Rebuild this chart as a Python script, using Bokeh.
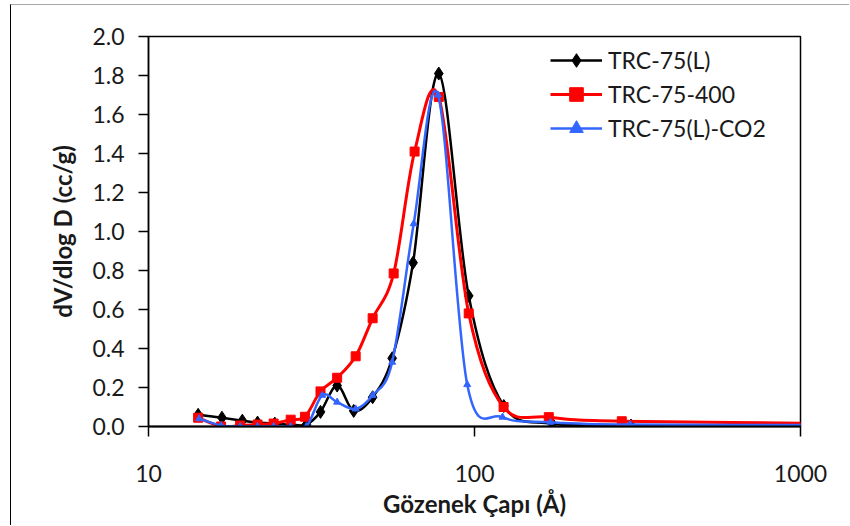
import numpy as np
from bokeh.plotting import figure
from bokeh.models import (Range1d, FixedTicker, PrintfTickFormatter, Legend,
                          LegendItem, ColumnDataSource)
from bokeh.embed import file_html
from bokeh.resources import INLINE

# ---------------- data ----------------
series_names = ["TRC-75(L)", "TRC-75-400", "TRC-75(L)-CO2"]

x_l = [14.2, 16.8, 19.4, 21.6, 24.4, 27.3, 30.5, 33.7, 37.9, 42.6, 48.7, 55.9,
       64.8, 77.7, 96.0, 123.0, 173.0, 302.0, 1400.0]
y_l = [0.06, 0.045, 0.03, 0.02, 0.015, 0.01, 0.01, 0.075, 0.21, 0.08, 0.15, 0.35,
       0.84, 1.81, 0.67, 0.105, 0.015, 0.005, 0.002]

x_r = [14.2, 16.7, 19.1, 21.6, 24.2, 27.3, 30.2, 33.7, 37.9, 43.2, 48.7, 56.5,
       65.5, 77.7, 96.0, 122.8, 169.0, 283.0, 1400.0]
y_r = [0.045, 0.0, 0.005, 0.01, 0.015, 0.035, 0.05, 0.18, 0.25, 0.36, 0.555, 0.785,
       1.41, 1.69, 0.58, 0.10, 0.048, 0.027, 0.015]

x_b = [14.3, 16.7, 19.1, 21.6, 24.2, 27.3, 30.5, 34.1, 37.9, 43.2, 48.7, 55.9,
       65.1, 77.3, 95.0, 121.9, 170.9, 300.0, 1400.0]
y_b = [0.04, 0.005, 0.0, 0.0, 0.0, 0.0, 0.0, 0.16, 0.125, 0.09, 0.16, 0.33,
       1.04, 1.70, 0.215, 0.048, 0.022, 0.01, 0.008]

x_ticks = [10, 100, 1000]
x_tick_labels = ["10", "100", "1000"]
y_ticks = [0.0, 0.2, 0.4, 0.6, 0.8, 1.0, 1.2, 1.4, 1.6, 1.8, 2.0]

x_title = "Gözenek Çapı (Å)"
y_title = "dV/dlog D (cc/g)"

FONT = "Lato"


def smooth_segments(xs, ys):
    """Catmull-Rom style Bezier control points (Excel-like smoothed line),
    computed in log10(x) / y space so they map straight through the log scale."""
    lx = np.log10(np.asarray(xs, float))
    yy = np.asarray(ys, float)
    P = np.column_stack([lx, yy])
    n = len(P)
    ext = np.vstack([P[0], P, P[-1]])
    i = np.arange(n - 1)
    c1 = P[i] + (ext[i + 2] - ext[i]) / 6.0
    c2 = P[i + 1] - (ext[i + 3] - ext[i + 1]) / 6.0
    return dict(x0=10 ** P[i, 0], y0=P[i, 1], x1=10 ** P[i + 1, 0], y1=P[i + 1, 1],
                cx0=10 ** c1[:, 0], cy0=c1[:, 1], cx1=10 ** c2[:, 0], cy1=c2[:, 1])


p = figure(width=839, height=521, x_axis_type="log",
           x_range=Range1d(10, 1000), y_range=Range1d(0, 2.0),
           output_backend="svg", toolbar_location=None,
           min_border_left=137, min_border_right=50, min_border_top=31,
           min_border_bottom=100)
p.styles = {"margin-left": "10px", "margin-top": "4px",
            "border-left": "1px solid #000000", "border-top": "1px solid #a6a6a6"}

p.xgrid.visible = False
p.ygrid.visible = False
p.outline_line_color = "black"
p.outline_line_width = 1.5
p.background_fill_color = "white"
p.border_fill_color = "white"

# axes
p.xaxis.ticker = FixedTicker(ticks=x_ticks, minor_ticks=[])
p.xaxis.major_label_overrides = {t: s for t, s in zip(x_ticks, x_tick_labels)}
p.yaxis.ticker = FixedTicker(ticks=y_ticks, minor_ticks=[])
p.yaxis.formatter = PrintfTickFormatter(format="%.1f")

for ax in (p.xaxis[0], p.yaxis[0]):
    ax.major_tick_in = 0
    ax.major_tick_out = 10
    ax.minor_tick_in = 0
    ax.minor_tick_out = 0
    ax.major_tick_line_color = "black"
    ax.major_tick_line_width = 1.5
    ax.axis_line_color = "black"
    ax.major_label_text_font = FONT
    ax.major_label_text_font_size = "23px"
    ax.major_label_text_color = "#1a1a1a"
    ax.axis_label_text_font = FONT
    ax.axis_label_text_font_style = "bold"
    ax.axis_label_text_font_size = "24px"
    ax.axis_label_text_color = "#1a1a1a"

p.xaxis.axis_line_width = 2
p.yaxis.axis_line_width = 1.5
p.xaxis.major_label_standoff = 28
p.yaxis.major_label_standoff = 14
p.xaxis.axis_label = x_title
p.yaxis.axis_label = y_title
p.xaxis.axis_label_standoff = 4
p.yaxis.axis_label_standoff = 12

# series
specs = [
    (x_l, y_l, "#000000", 2.5, "diamond", 13),
    (x_r, y_r, "#ff0000", 3.0, "square", 9),
    (x_b, y_b, "#3366ff", 2.5, "triangle", 7),
]

items = []
for name, (xs, ys, col, lw, mk, ms) in zip(series_names, specs):
    seg = ColumnDataSource(smooth_segments(xs, ys))
    bz = p.bezier(x0="x0", y0="y0", x1="x1", y1="y1", cx0="cx0", cy0="cy0",
                  cx1="cx1", cy1="cy1", source=seg, line_color=col, line_width=lw)
    pts = ColumnDataSource(dict(x=xs, y=ys))
    sc = p.scatter(x="x", y="y", source=pts, marker=mk, size=ms,
                   fill_color=col, line_color=col, line_width=1)
    items.append(LegendItem(label=name, renderers=[bz, sc]))

legend = Legend(items=items, location=(402, 281), border_line_color=None,
                background_fill_alpha=0, padding=0, margin=0, spacing=0,
                glyph_width=52, glyph_height=34, label_height=34,
                label_standoff=6, label_text_font=FONT,
                label_text_font_size="23px", label_text_color="#1a1a1a")
p.add_layout(legend)

open("out.html", "w").write(file_html(p, INLINE))
